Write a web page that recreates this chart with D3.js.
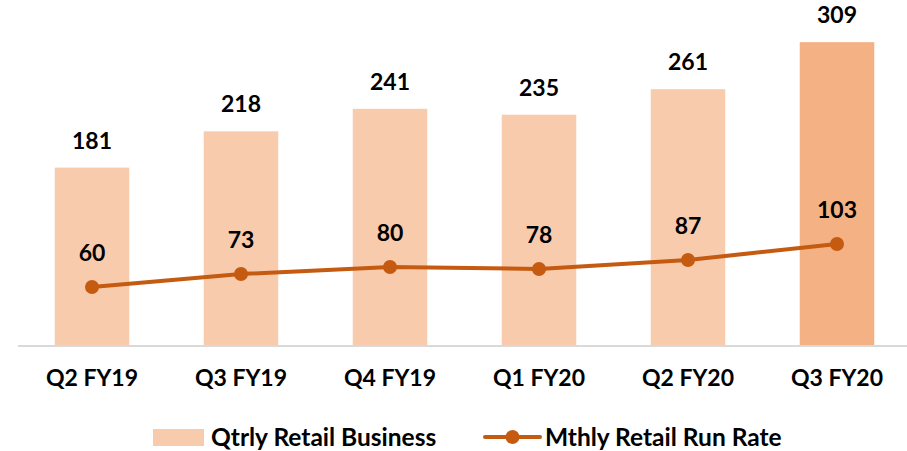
<!DOCTYPE html>
<html>
<head>
<meta charset="utf-8">
<script src="https://cdn.jsdelivr.net/npm/d3@7"></script>
<style>
  html, body { margin: 0; padding: 0; background: #fff; }
  svg text { font-family: Lato, "Open Sans", sans-serif; font-weight: bold; fill: #000; }
</style>
</head>
<body>
<svg id="chart" width="907" height="451"></svg>
<script>
// Quarter labels along the x axis
const categories = ["Q2 FY19", "Q3 FY19", "Q4 FY19", "Q1 FY20", "Q2 FY20", "Q3 FY20"];
// Quarterly retail business (bars)
const qtrlyRetail = [181, 218, 241, 235, 261, 309];
// Monthly retail run rate (line, secondary scale)
const mthlyRunRate = [60, 73, 80, 78, 87, 103];
const legendLabels = ["Qtrly Retail Business", "Mthly Retail Run Rate"];

const barColor = "#F8CBAD";
const lastBarColor = "#F4B183";
const lineColor = "#C55A11";

const svg = d3.select("#chart");

const x = d3.scaleBand()
  .domain(categories)
  .range([17.5, 911.5])
  .paddingInner(0.5)
  .paddingOuter(0.25);

const yBar = d3.scaleLinear().domain([0, 350]).range([345, 2]);
const yLine = d3.scaleLinear().domain([0, 120]).range([347, 227]);

const data = categories.map((c, i) => ({ cat: c, bar: qtrlyRetail[i], line: mthlyRunRate[i], i }));

// Bars
svg.append("g").selectAll("rect")
  .data(data)
  .join("rect")
  .attr("x", d => x(d.cat))
  .attr("y", d => yBar(d.bar))
  .attr("width", x.bandwidth())
  .attr("height", d => yBar(0) - yBar(d.bar))
  .attr("fill", d => d.i === data.length - 1 ? lastBarColor : barColor);

// Category axis baseline
svg.append("line")
  .attr("x1", 18).attr("x2", 907)
  .attr("y1", 346).attr("y2", 346)
  .attr("stroke", "#d9d9d9")
  .attr("stroke-width", 2);

// Bar value labels
svg.append("g").selectAll("text")
  .data(data)
  .join("text")
  .attr("x", d => x(d.cat) + x.bandwidth() / 2)
  .attr("y", d => yBar(d.bar) - 19)
  .attr("text-anchor", "middle")
  .attr("font-size", 23)
  .text(d => d.bar);

// Run-rate line
const line = d3.line()
  .x(d => x(d.cat) + x.bandwidth() / 2)
  .y(d => yLine(d.line));

svg.append("path")
  .datum(data)
  .attr("d", line)
  .attr("fill", "none")
  .attr("stroke", lineColor)
  .attr("stroke-width", 4)
  .attr("stroke-linejoin", "round");

svg.append("g").selectAll("circle")
  .data(data)
  .join("circle")
  .attr("cx", d => x(d.cat) + x.bandwidth() / 2)
  .attr("cy", d => yLine(d.line))
  .attr("r", 7)
  .attr("fill", lineColor);

// Run-rate value labels
svg.append("g").selectAll("text")
  .data(data)
  .join("text")
  .attr("x", d => x(d.cat) + x.bandwidth() / 2)
  .attr("y", d => yLine(d.line) - 26)
  .attr("text-anchor", "middle")
  .attr("font-size", 23)
  .text(d => d.line);

// Category labels
svg.append("g").selectAll("text")
  .data(data)
  .join("text")
  .attr("x", d => x(d.cat) + x.bandwidth() / 2)
  .attr("y", 386)
  .attr("text-anchor", "middle")
  .attr("font-size", 23)
  .text(d => d.cat);

// Legend
const legend = svg.append("g");
legend.append("rect")
  .attr("x", 153).attr("y", 429)
  .attr("width", 51).attr("height", 17)
  .attr("fill", barColor);
legend.append("text")
  .attr("x", 211).attr("y", 446)
  .attr("font-size", 24.5)
  .text(legendLabels[0]);
legend.append("line")
  .attr("x1", 485).attr("x2", 540)
  .attr("y1", 437).attr("y2", 437)
  .attr("stroke", lineColor).attr("stroke-width", 4)
  .attr("stroke-linecap", "round");
legend.append("circle")
  .attr("cx", 512.5).attr("cy", 437).attr("r", 7)
  .attr("fill", lineColor);
legend.append("text")
  .attr("x", 545).attr("y", 446)
  .attr("font-size", 24.5)
  .text(legendLabels[1]);
</script>
</body>
</html>
